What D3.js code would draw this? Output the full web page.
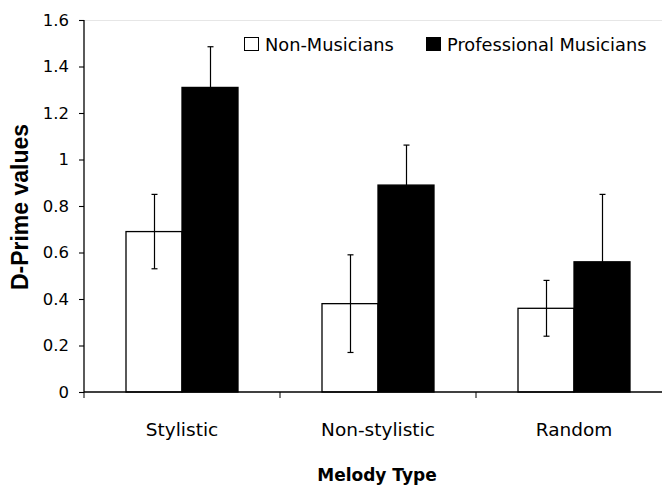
<!DOCTYPE html>
<html>
<head>
<meta charset="utf-8">
<script src="https://cdn.jsdelivr.net/npm/d3@7"></script>
<style>
  html, body { margin: 0; padding: 0; background: #fff; }
  svg { display: block; }
</style>
</head>
<body>
<svg id="chart" width="662" height="485"></svg>
<script>
const categories = ["Stylistic", "Non-stylistic", "Random"];
const seriesNames = ["Non-Musicians", "Professional Musicians"];
const nonMusicians = [0.69, 0.38, 0.36];
const nonMusiciansErr = [0.16, 0.21, 0.12];
const professional = [1.31, 0.89, 0.56];
const professionalErr = [0.175, 0.172, 0.29];
const yTicks = [0, 0.2, 0.4, 0.6, 0.8, 1, 1.2, 1.4, 1.6];
const yTickLabels = ["0", "0.2", "0.4", "0.6", "0.8", "1", "1.2", "1.4", "1.6"];
const yTitle = "D-Prime values";
const xTitle = "Melody Type";

(function () {
const FONT = "'DejaVu Sans', Verdana, sans-serif";
const svg = d3.select("#chart");

const mLeft = 84, mTop = 20, mBottom = 392, bandW = 196;
const x = d3.scaleBand().domain(categories).range([mLeft, mLeft + bandW * categories.length]).padding(0);
const inner = d3.scaleBand().domain(seriesNames).range([0, x.bandwidth()]).paddingInner(0).paddingOuter(0.75);
const y = d3.scaleLinear().domain([0, 1.6]).range([mBottom, mTop]);

const rows = categories.map((c, i) => [
  { cat: c, s: seriesNames[0], v: nonMusicians[i], e: nonMusiciansErr[i] },
  { cat: c, s: seriesNames[1], v: professional[i], e: professionalErr[i] }
]).flat();
const fills = { "Non-Musicians": "#fff", "Professional Musicians": "#000" };

// faint top border of plot area
svg.append("line").attr("x1", mLeft).attr("x2", 662).attr("y1", mTop + 0.5).attr("y2", mTop + 0.5)
  .attr("stroke", "#e6e6e6").attr("stroke-width", 1);

// bars
svg.append("g").selectAll("rect").data(rows).join("rect")
  .attr("x", d => x(d.cat) + inner(d.s))
  .attr("y", d => y(d.v))
  .attr("width", inner.bandwidth())
  .attr("height", d => y(0) - y(d.v))
  .attr("fill", d => fills[d.s])
  .attr("stroke", "#000").attr("stroke-width", 1.3);

// error bars
const eb = svg.append("g").attr("stroke", "#000").attr("stroke-width", 1.2);
rows.forEach(d => {
  const cx = Math.round(x(d.cat) + inner(d.s) + inner.bandwidth() / 2) + 0.5;
  const lo = d.s === "Professional Musicians" ? d.v : d.v - d.e;
  eb.append("line").attr("x1", cx).attr("x2", cx).attr("y1", y(lo)).attr("y2", y(d.v + d.e));
  const caps = d.s === "Professional Musicians" ? [d.v + d.e] : [d.v - d.e, d.v + d.e];
  caps.forEach(v => {
    eb.append("line").attr("x1", cx - 3).attr("x2", cx + 3).attr("y1", y(v)).attr("y2", y(v));
  });
});

// y axis
const yAxis = d3.axisLeft(y).tickValues(yTicks).tickSize(5).tickPadding(10)
  .tickFormat((d, i) => yTickLabels[i]);
const gy = svg.append("g").attr("transform", `translate(${mLeft},0)`).call(yAxis);
gy.select(".domain").attr("d", `M0,${mTop}V${mBottom}`).attr("stroke-width", 1.3);
gy.selectAll(".tick line").attr("stroke-width", 1.1);
gy.selectAll("text").attr("font-family", FONT).attr("font-size", 16.5).attr("fill", "#000");

// x axis
svg.append("line").attr("x1", mLeft).attr("x2", 662).attr("y1", mBottom).attr("y2", mBottom)
  .attr("stroke", "#000").attr("stroke-width", 1.5);
const bounds = categories.map(c => x(c)).concat([x.range()[1]]);
svg.append("g").selectAll("line").data(bounds).join("line")
  .attr("x1", d => d).attr("x2", d => d).attr("y1", mBottom).attr("y2", mBottom + 6)
  .attr("stroke", "#000").attr("stroke-width", 1);
svg.append("g").selectAll("text").data(categories).join("text")
  .attr("x", d => x(d) + x.bandwidth() / 2).attr("y", 436)
  .attr("text-anchor", "middle").attr("font-family", FONT).attr("font-size", 18.5)
  .text(d => d);

// axis titles
svg.append("text").attr("x", (mLeft + x.range()[1]) / 2 - 1).attr("y", 481)
  .attr("text-anchor", "middle").attr("font-family", FONT).attr("font-weight", "bold")
  .attr("font-size", 17).text(xTitle);
svg.append("text").attr("transform", "translate(28,207) rotate(-90)")
  .attr("text-anchor", "middle").attr("font-family", "'Liberation Sans', Arial, sans-serif")
  .attr("font-weight", "bold").attr("font-size", 23).text(yTitle);

// legend
const legendPos = [244, 426];
const lg = svg.append("g");
seriesNames.forEach((s, i) => {
  lg.append("rect").attr("x", legendPos[i] + 0.5).attr("y", 37.5).attr("width", 14).attr("height", 13)
    .attr("fill", fills[s]).attr("stroke", "#000").attr("stroke-width", 1);
  lg.append("text").attr("x", legendPos[i] + 21).attr("y", 50.5)
    .attr("font-family", FONT).attr("font-size", 17.8).text(s);
});
})();
</script>
</body>
</html>
